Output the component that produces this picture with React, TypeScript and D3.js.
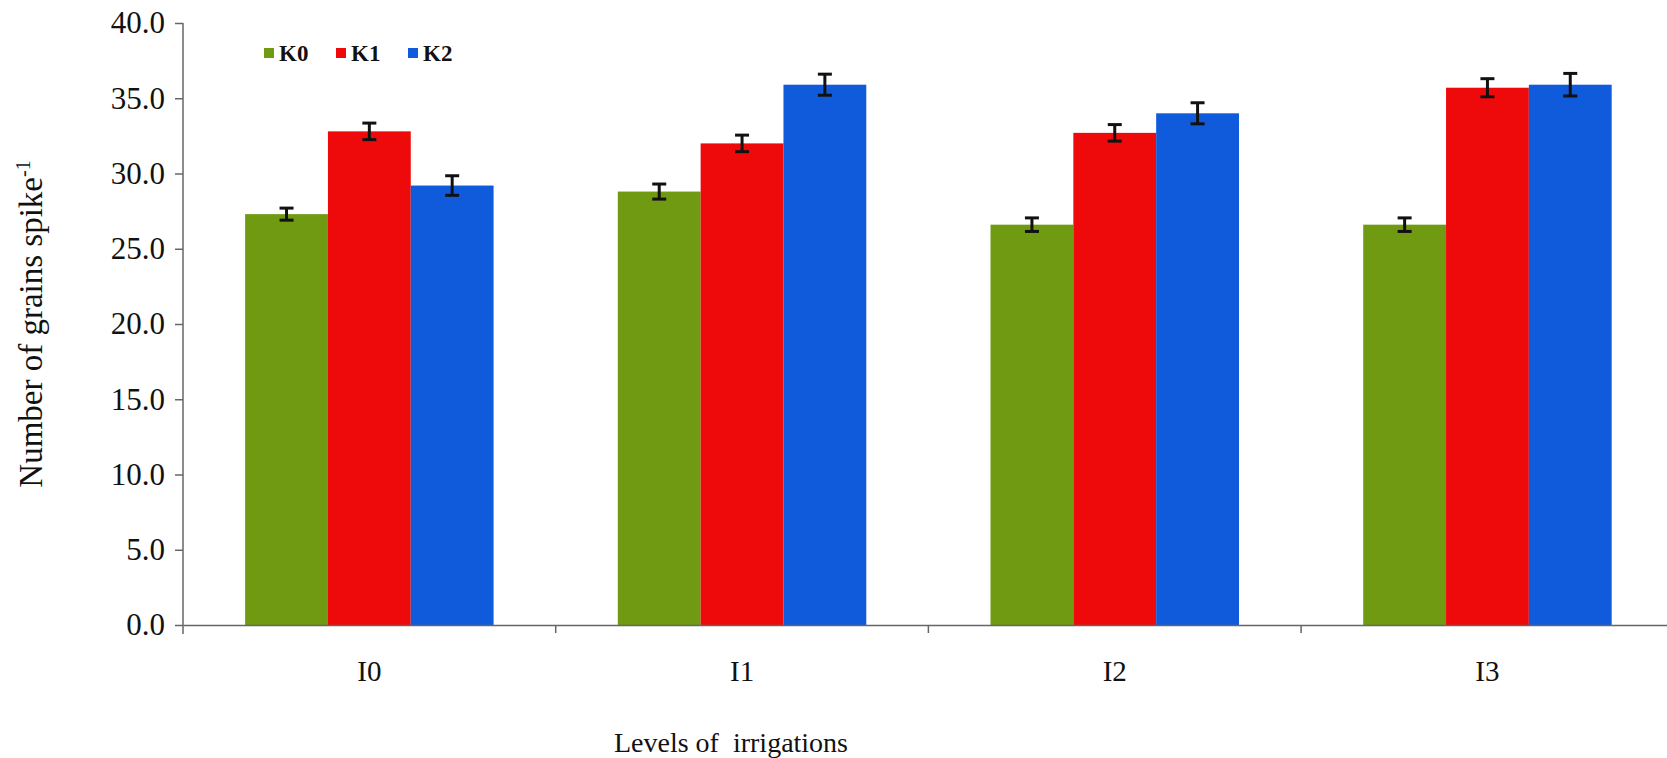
import { useRef, useEffect } from 'react';
import * as d3 from 'd3';

const categories = ['I0', 'I1', 'I2', 'I3'];
const series = ['K0', 'K1', 'K2'];
const k0Values = [27.3, 28.8, 26.6, 26.6];
const k1Values = [32.8, 32.0, 32.7, 35.7];
const k2Values = [29.2, 35.9, 34.0, 35.9];
const k0Errors = [0.4, 0.5, 0.45, 0.45];
const k1Errors = [0.55, 0.55, 0.55, 0.6];
const k2Errors = [0.65, 0.7, 0.7, 0.75];
const yTicks = [0, 5, 10, 15, 20, 25, 30, 35, 40];
const colors = ['#6f9a12', '#ee0a0a', '#0f5bdc'];

const W = 1667;
const H = 758;
const FONT = '"Liberation Serif", "Times New Roman", serif';

const App = () => {
  const ref = useRef<SVGSVGElement>(null);

  useEffect(() => {
    const svg = d3.select(ref.current);
    svg.selectAll('*').remove();

    const left = 183;
    const catW = 372.7;
    const x = d3.scaleBand<string>()
      .domain(categories)
      .range([left, left + catW * categories.length])
      .padding(0);
    const xs = d3.scaleBand<string>()
      .domain(series)
      .range([0, x.bandwidth()])
      .paddingInner(0)
      .paddingOuter(0.75);
    const y = d3.scaleLinear().domain([0, 40]).range([625, 23]);

    const values = [k0Values, k1Values, k2Values];
    const errors = [k0Errors, k1Errors, k2Errors];
    const rows = categories.flatMap((c, i) =>
      series.map((s, j) => ({ c, s, j, v: values[j][i], e: errors[j][i] }))
    );

    svg.append('rect').attr('width', W).attr('height', H).attr('fill', '#fff');

    // bars
    svg.selectAll('.bar')
      .data(rows)
      .enter().append('rect')
      .attr('class', 'bar')
      .attr('x', d => x(d.c)! + xs(d.s)!)
      .attr('y', d => y(d.v))
      .attr('width', xs.bandwidth())
      .attr('height', d => y(0) - y(d.v))
      .attr('fill', d => colors[d.j]);

    // error bars
    const eb = svg.append('g').attr('stroke', '#111').attr('stroke-width', 3);
    rows.forEach(d => {
      const cx = x(d.c)! + xs(d.s)! + xs.bandwidth() / 2;
      eb.append('line').attr('x1', cx).attr('x2', cx)
        .attr('y1', y(d.v + d.e)).attr('y2', y(d.v - d.e));
      [d.v + d.e, d.v - d.e].forEach(v => {
        eb.append('line').attr('x1', cx - 7).attr('x2', cx + 7)
          .attr('y1', y(v)).attr('y2', y(v));
      });
    });

    // y axis
    const yAxis = svg.append('g')
      .attr('transform', `translate(${left},0)`)
      .call(d3.axisLeft(y).tickValues(yTicks).tickFormat(d3.format('.1f')).tickSize(8).tickPadding(10));
    yAxis.select('.domain').remove();
    yAxis.selectAll('line').attr('stroke', '#666').attr('stroke-width', 1.5);
    yAxis.selectAll('text')
      .attr('font-family', FONT).attr('font-size', 31).attr('fill', '#111');
    svg.append('line')
      .attr('x1', left).attr('x2', left)
      .attr('y1', y(40)).attr('y2', y(0) + 9)
      .attr('stroke', '#666').attr('stroke-width', 1.5);

    // x axis
    const xAxis = svg.append('g')
      .attr('transform', `translate(0,${y(0)})`)
      .call(d3.axisBottom(x).tickSize(0).tickPadding(35));
    xAxis.select('.domain').attr('stroke', '#666').attr('stroke-width', 1.5);
    xAxis.selectAll('text')
      .attr('font-family', FONT).attr('font-size', 29).attr('fill', '#111');
    svg.selectAll('.xtick')
      .data(categories.slice(1))
      .enter().append('line')
      .attr('class', 'xtick')
      .attr('x1', d => x(d)!).attr('x2', d => x(d)!)
      .attr('y1', y(0)).attr('y2', y(0) + 8)
      .attr('stroke', '#666').attr('stroke-width', 1.5);

    // axis titles
    svg.append('text')
      .attr('x', 731).attr('y', 752)
      .attr('text-anchor', 'middle')
      .attr('font-family', FONT).attr('font-size', 28).attr('fill', '#111')
      .style('white-space', 'pre')
      .text('Levels of  irrigations');

    const yt = svg.append('text')
      .attr('transform', 'translate(42,324) rotate(-90)')
      .attr('text-anchor', 'middle')
      .attr('font-family', FONT).attr('font-size', 33).attr('fill', '#111');
    yt.append('tspan').text('Number of grains spike');
    yt.append('tspan').attr('dy', -12).attr('font-size', 20).text('-1');

    // legend
    const lg = svg.append('g').attr('transform', 'translate(264,53)');
    series.forEach((s, j) => {
      const g = lg.append('g').attr('transform', `translate(${j * 72},0)`);
      g.append('rect').attr('x', 0).attr('y', -5).attr('width', 10).attr('height', 10)
        .attr('fill', colors[j]);
      g.append('text').attr('x', 15).attr('y', 8)
        .attr('font-family', FONT).attr('font-size', 23).attr('font-weight', 'bold')
        .attr('fill', '#111').text(s);
    });
  }, []);

  return (
    <svg ref={ref} width={W} height={H}
      style={{ position: 'absolute', left: 0, top: 0, display: 'block' }} />
  );
};

export default App;
